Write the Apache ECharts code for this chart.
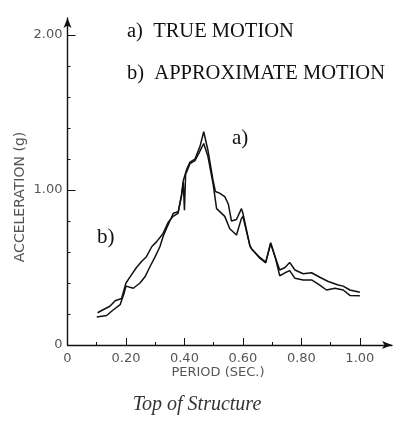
<!DOCTYPE html>
<html>
<head>
<meta charset="utf-8">
<script src="https://cdn.jsdelivr.net/npm/echarts@6/dist/echarts.min.js"></script>
<style>
  html, body { margin: 0; padding: 0; background: #fff; }
  #chart { width: 394px; height: 427px; }
</style>
</head>
<body>
<div id="chart"></div>
<script>
// period (sec) / acceleration (g)
const trueMotion = [
  [0.10,0.18],[0.134,0.19],[0.156,0.226],[0.18,0.26],[0.193,0.33],[0.20,0.38],[0.225,0.366],
  [0.248,0.40],[0.265,0.44],[0.282,0.505],[0.30,0.57],[0.316,0.634],[0.327,0.70],[0.339,0.753],
  [0.362,0.85],[0.379,0.86],[0.39,0.97],[0.396,1.06],[0.407,1.13],[0.419,1.18],[0.436,1.20],
  [0.453,1.28],[0.466,1.376],[0.48,1.26],[0.498,1.06],[0.506,0.99],[0.52,0.98],[0.538,0.957],
  [0.55,0.91],[0.561,0.80],[0.578,0.81],[0.595,0.88],[0.60,0.85],[0.624,0.64],[0.63,0.62],
  [0.658,0.56],[0.678,0.53],[0.695,0.66],[0.71,0.57],[0.726,0.484],[0.744,0.50],[0.76,0.533],
  [0.778,0.484],[0.806,0.46],[0.835,0.466],[0.863,0.437],[0.892,0.41],[0.926,0.387],
  [0.943,0.38],[0.966,0.355],[1.0,0.34]
];
const approxMotion = [
  [0.103,0.208],[0.12,0.226],[0.145,0.25],[0.163,0.286],[0.185,0.30],[0.20,0.40],[0.214,0.44],
  [0.236,0.50],[0.254,0.54],[0.27,0.57],[0.288,0.634],[0.305,0.667],[0.327,0.72],[0.344,0.79],
  [0.361,0.83],[0.378,0.85],[0.39,0.96],[0.396,1.05],[0.40,0.87],[0.404,1.10],[0.419,1.17],
  [0.436,1.19],[0.45,1.24],[0.466,1.30],[0.48,1.22],[0.498,1.04],[0.51,0.88],[0.538,0.83],
  [0.555,0.75],[0.578,0.71],[0.595,0.817],[0.60,0.83],[0.624,0.64],[0.63,0.62],[0.658,0.565],
  [0.678,0.535],[0.695,0.655],[0.71,0.57],[0.726,0.447],[0.744,0.466],[0.76,0.48],[0.778,0.43],
  [0.806,0.42],[0.835,0.42],[0.863,0.387],[0.886,0.355],[0.915,0.366],[0.943,0.355],
  [0.966,0.32],[1.0,0.318]
];
const xLabels = [0, 0.2, 0.4, 0.6, 0.8, 1.0];
const xMinor = [0.1, 0.3, 0.5, 0.7, 0.9];
const yLabels = [0, 1, 2];
const yMinor = [0.2, 0.4, 0.6, 0.8, 1.2, 1.4, 1.6, 1.8];

const ink = '#111';
const labelFont = {fontFamily: 'DejaVu Sans', fontSize: 13, color: '#555'};

const chart = echarts.init(document.getElementById('chart'));
chart.setOption({
  animation: false,
  grid: {left: 67.5, right: 2, top: 18, bottom: 82},
  xAxis: [{
    type: 'value', min: 0, max: 1.11, interval: 0.1,
    splitLine: {show: false},
    axisLine: {lineStyle: {color: ink, width: 1.4}, symbol: ['none', 'arrow'], symbolSize: [6, 10]},
    axisTick: {inside: true, length: 7, customValues: xLabels.slice(1), lineStyle: {color: ink}},
    axisLabel: Object.assign({customValues: xLabels, margin: 7,
      formatter: v => v === 0 ? '0' : v.toFixed(2)}, labelFont)
  }, {
    type: 'value', min: 0, max: 1.11, position: 'bottom',
    splitLine: {show: false}, axisLine: {show: false}, axisLabel: {show: false},
    axisTick: {inside: true, length: 3, customValues: xMinor, lineStyle: {color: ink}}
  }],
  yAxis: [{
    type: 'value', min: 0, max: 2.11, interval: 0.2,
    splitLine: {show: false},
    axisLine: {lineStyle: {color: ink, width: 1.4}, symbol: ['none', 'arrow'], symbolSize: [6, 10]},
    axisTick: {inside: true, length: 8, customValues: yLabels, lineStyle: {color: ink}},
    axisLabel: Object.assign({customValues: yLabels, margin: 5,
      formatter: v => v === 0 ? '0' : v.toFixed(2)}, labelFont)
  }, {
    type: 'value', min: 0, max: 2.11, position: 'left',
    splitLine: {show: false}, axisLine: {show: false}, axisLabel: {show: false},
    axisTick: {inside: true, length: 3, customValues: yMinor, lineStyle: {color: ink}}
  }],
  series: [
    {name: 'a) TRUE MOTION', type: 'line', data: trueMotion, showSymbol: false,
     lineStyle: {color: ink, width: 1.5}},
    {name: 'b) APPROXIMATE MOTION', type: 'line', data: approxMotion, showSymbol: false,
     lineStyle: {color: ink, width: 1.5}}
  ],
  graphic: [
    {type: 'text', left: 127, top: 21, style: {text: 'a)  TRUE MOTION', font: '20.5px "Liberation Serif"', fill: ink}},
    {type: 'text', left: 127, top: 63, style: {text: 'b)  APPROXIMATE MOTION', font: '20.5px "Liberation Serif"', fill: ink}},
    {type: 'text', left: 232, top: 128, style: {text: 'a)', font: '21px "Liberation Serif"', fill: ink}},
    {type: 'text', left: 97, top: 227, style: {text: 'b)', font: '21px "Liberation Serif"', fill: ink}},
    {type: 'text', x: 20, y: 197, rotation: Math.PI / 2,
     style: {text: 'ACCELERATION (g)', font: '14px "DejaVu Sans"', fill: '#555', align: 'center', verticalAlign: 'middle'}},
    {type: 'text', x: 218, y: 373,
     style: {text: 'PERIOD (SEC.)', font: '13px "DejaVu Sans"', fill: '#555', align: 'center', verticalAlign: 'middle'}},
    {type: 'text', x: 197, y: 405,
     style: {text: 'Top of Structure', font: 'italic 20px "Liberation Serif"', fill: '#333', align: 'center', verticalAlign: 'middle'}}
  ]
});
</script>
</body>
</html>
